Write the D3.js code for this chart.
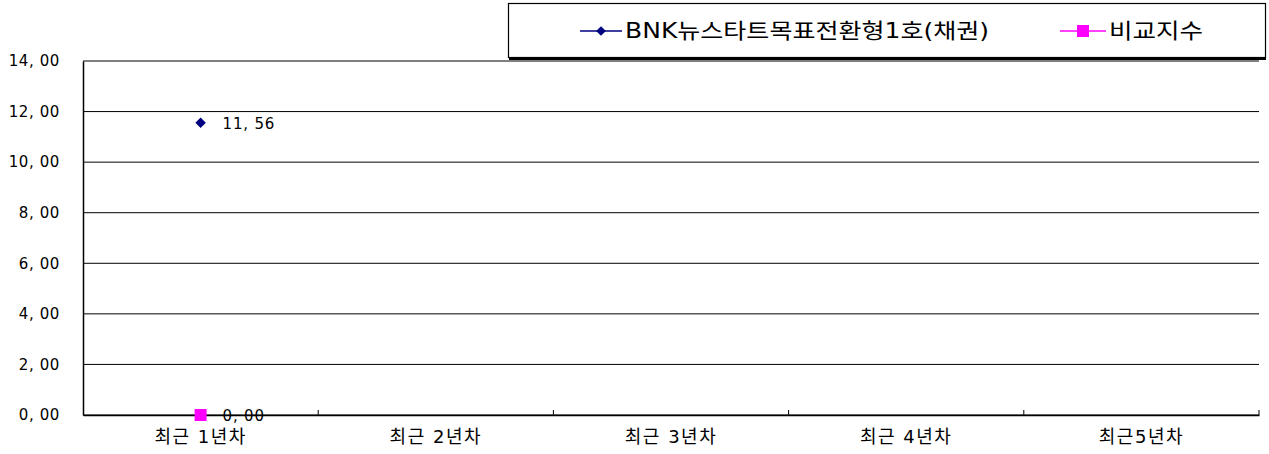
<!DOCTYPE html>
<html>
<head>
<meta charset="utf-8">
<script src="https://cdn.jsdelivr.net/npm/d3@7"></script>
<style>
  body { margin: 0; background: #fff; }
  text { font-family: "DejaVu Sans", "Noto Sans CJK KR", sans-serif; fill: #000; }
</style>
</head>
<body>
<div id="chart"></div>
<script>
const categories = ["최근 1년차", "최근 2년차", "최근 3년차", "최근 4년차", "최근5년차"];
const fundName = "BNK뉴스타트목표전환형1호(채권)";
const benchName = "비교지수";
const fundValues = [11.56, null, null, null, null];
const benchValues = [0.0, null, null, null, null];
const yTicks = [0, 2, 4, 6, 8, 10, 12, 14];

const W = 1269, H = 454;
const margin = { top: 61, right: 10, bottom: 39, left: 83 };
const width = W - margin.left - margin.right;
const height = H - margin.top - margin.bottom;

const fmt = (v) => d3.format(".2f")(v).replace(".", ", ");

const root = d3.select("#chart").append("svg").attr("width", W).attr("height", H);
const svg = root.append("g").attr("transform", `translate(${margin.left},${margin.top})`);

const x = d3.scaleBand().domain(categories).range([0, width]);
const y = d3.scaleLinear().domain([0, 14]).range([height, 0]);

// grid lines
svg.append("g")
  .selectAll("line")
  .data(yTicks)
  .join("line")
  .attr("x1", 0)
  .attr("x2", width)
  .attr("y1", (d) => y(d))
  .attr("y2", (d) => y(d))
  .attr("stroke", "#000")
  .attr("stroke-width", 1);

// y axis
const yAxis = d3.axisLeft(y).tickValues(yTicks).tickSize(0).tickPadding(23).tickFormat(fmt);
svg.append("g")
  .call(yAxis)
  .call((g) => g.select(".domain").attr("stroke", "#000").attr("stroke-width", 1.5))
  .call((g) => g.selectAll("text")
    .attr("font-size", 15)
    .attr("letter-spacing", 0.6)
    .attr("font-family", "DejaVu Sans")
    .attr("fill", "#000"));

// x axis
const xAxis = d3.axisBottom(x).tickSize(0).tickPadding(15);
svg.append("g")
  .attr("transform", `translate(0,${height})`)
  .call(xAxis)
  .call((g) => g.select(".domain").attr("stroke", "#000").attr("stroke-width", 1.5))
  .call((g) => g.selectAll("text")
    .attr("font-size", 18)
    .attr("letter-spacing", 1.5)
    .attr("font-family", "Noto Sans CJK KR")
    .attr("fill", "#000"));

// category boundary ticks
svg.append("g")
  .selectAll("line")
  .data(categories)
  .join("line")
  .attr("x1", (d) => x(d) + x.bandwidth())
  .attr("x2", (d) => x(d) + x.bandwidth())
  .attr("y1", height - 5)
  .attr("y2", height)
  .attr("stroke", "#000");

// fund points
const fundPts = categories.map((c, i) => ({ c, v: fundValues[i] })).filter((d) => d.v != null);
svg.append("g")
  .selectAll("path")
  .data(fundPts)
  .join("path")
  .attr("transform", (d) => `translate(${x(d.c) + x.bandwidth() / 2},${y(d.v)})`)
  .attr("d", d3.symbol(d3.symbolDiamond2, 70))
  .attr("fill", "#000080");
svg.append("g")
  .selectAll("text")
  .data(fundPts)
  .join("text")
  .attr("x", (d) => x(d.c) + x.bandwidth() / 2 + 22)
  .attr("y", (d) => y(d.v) + 6)
  .attr("font-size", 15)
  .attr("letter-spacing", 0.8)
  .text((d) => fmt(d.v));

// benchmark points
const benchPts = categories.map((c, i) => ({ c, v: benchValues[i] })).filter((d) => d.v != null);
svg.append("g")
  .selectAll("rect")
  .data(benchPts)
  .join("rect")
  .attr("x", (d) => x(d.c) + x.bandwidth() / 2 - 6)
  .attr("y", (d) => y(d.v) - 6)
  .attr("width", 12)
  .attr("height", 12)
  .attr("fill", "#ff00ff");
svg.append("g")
  .selectAll("text")
  .data(benchPts)
  .join("text")
  .attr("x", (d) => x(d.c) + x.bandwidth() / 2 + 22)
  .attr("y", (d) => y(d.v) + 6)
  .attr("font-size", 15)
  .attr("letter-spacing", 0.8)
  .text((d) => fmt(d.v));

// legend
const legend = root.append("g");
legend.append("rect")
  .attr("x", 508.5).attr("y", 3.5).attr("width", 757).attr("height", 54)
  .attr("fill", "#fff").attr("stroke", "#000").attr("stroke-width", 1.2);
legend.append("line")
  .attr("x1", 509).attr("x2", 1266).attr("y1", 59).attr("y2", 59)
  .attr("stroke", "#000").attr("stroke-width", 2);

legend.append("line").attr("x1", 580).attr("x2", 622).attr("y1", 31).attr("y2", 31)
  .attr("stroke", "#000080").attr("stroke-width", 1.5);
legend.append("path").attr("transform", "translate(601,31)")
  .attr("d", d3.symbol(d3.symbolDiamond2, 60)).attr("fill", "#000080");
legend.append("text").attr("x", 625).attr("y", 38).attr("font-size", 21)
  .attr("textLength", 364).attr("lengthAdjust", "spacingAndGlyphs")
  .text(fundName);

legend.append("line").attr("x1", 1060).attr("x2", 1106).attr("y1", 31).attr("y2", 31)
  .attr("stroke", "#ff00ff").attr("stroke-width", 1.5);
legend.append("rect").attr("x", 1077).attr("y", 25).attr("width", 12).attr("height", 12)
  .attr("fill", "#ff00ff");
legend.append("text").attr("x", 1109).attr("y", 38).attr("font-size", 21)
  .attr("textLength", 94).attr("lengthAdjust", "spacingAndGlyphs")
  .text(benchName);
</script>
</body>
</html>
